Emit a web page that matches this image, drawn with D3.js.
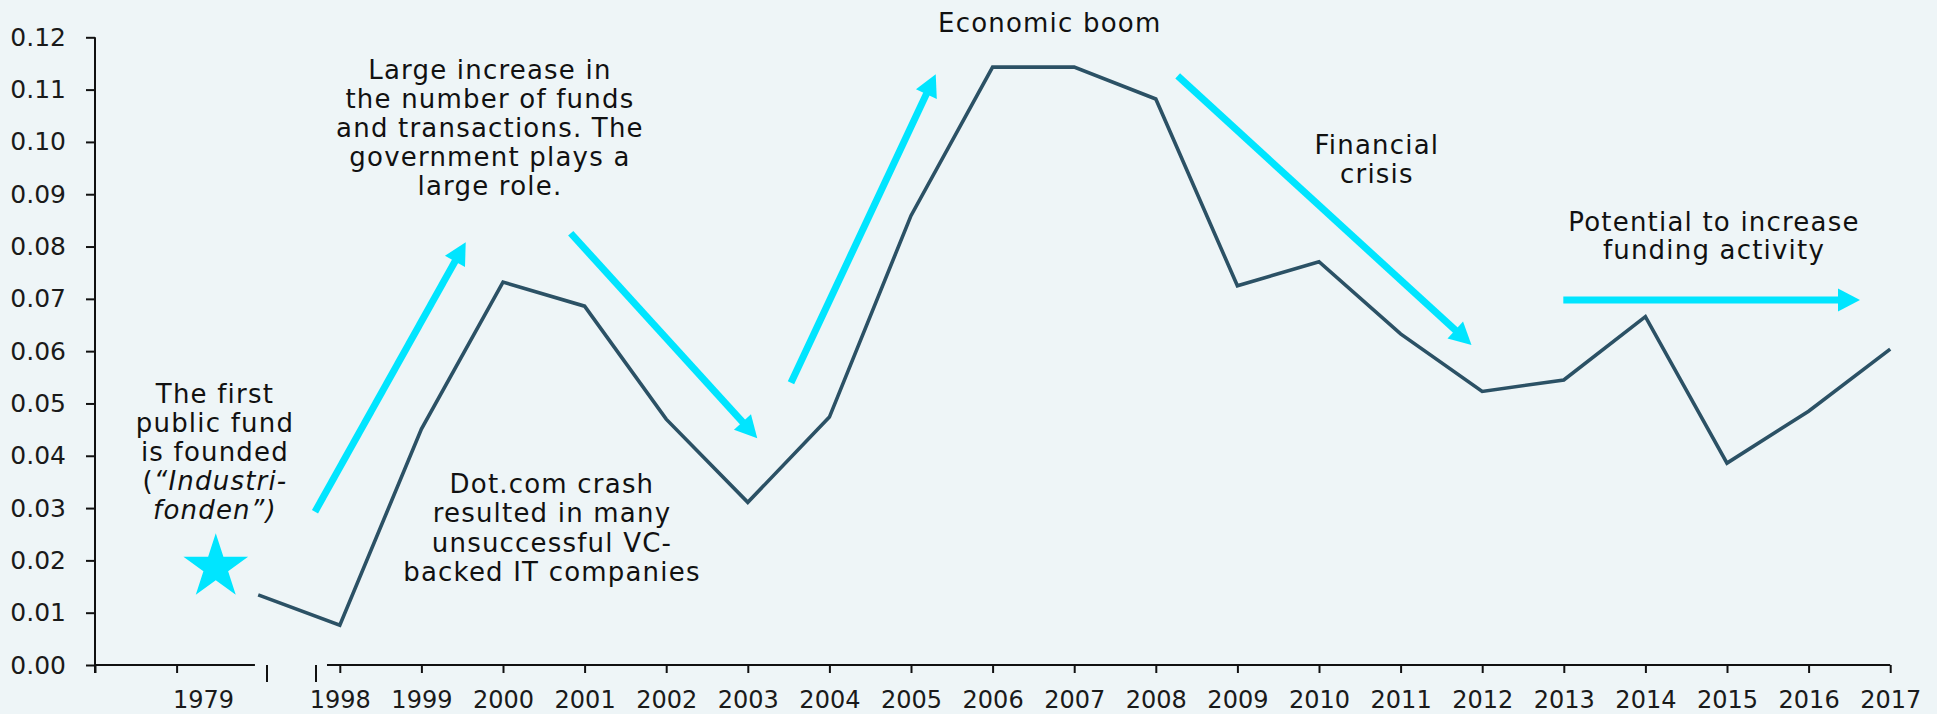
<!DOCTYPE html>
<html>
<head>
<meta charset="utf-8">
<script src="https://cdn.jsdelivr.net/npm/d3@7"></script>
<style>
  html, body { margin: 0; padding: 0; background: #EEF5F7; }
  svg { display: block; font-family: "DejaVu Sans", sans-serif; }
</style>
</head>
<body>
<svg id="chart" width="1937" height="714"></svg>
<script>
// Series: first point is the 1979 value, followed by 1998–2017
const categories = ["1979", "1998", "1999", "2000", "2001", "2002", "2003", "2004", "2005", "2006",
  "2007", "2008", "2009", "2010", "2011", "2012", "2013", "2014", "2015", "2016", "2017"];
const values = [0.0134, 0.0076, 0.0451, 0.0732, 0.0686, 0.0470, 0.0311, 0.0474, 0.0859, 0.1143,
  0.1143, 0.1082, 0.0725, 0.0771, 0.0633, 0.0523, 0.0545, 0.0666, 0.0386, 0.0485, 0.0604];
const yTicks = [0, 0.01, 0.02, 0.03, 0.04, 0.05, 0.06, 0.07, 0.08, 0.09, 0.10, 0.11, 0.12];
const yearTickLabels = categories.slice(1);

// Annotation texts
const notes = [
  { lines: ["Large increase in", "the number of funds", "and transactions. The", "government plays a", "large role."], slot: 4.84, top: 0.11205, lh: 29 },
  { lines: ["Economic boom"], slot: 11.70, top: 0.12103, lh: 29 },
  { lines: ["Financial", "crisis"], slot: 15.71, top: 0.09770, lh: 29.5 },
  { lines: ["Potential to increase", "funding activity"], slot: 19.84, top: 0.08298, lh: 28 },
  { lines: ["Dot.com crash", "resulted in many", "unsuccessful VC-", "backed IT companies"], slot: 5.60, top: 0.03289, lh: 29.3 }
];

// Trend arrows: [slotFrom, valueFrom, slotTo, valueTo]
const arrows = [
  [2.696, 0.02931, 4.543, 0.08082],
  [5.830, 0.08254, 8.116, 0.04335],
  [8.529, 0.05398, 10.303, 0.11294],
  [13.268, 0.11262, 16.869, 0.06119],
  [17.994, 0.06979, 21.630, 0.06979]
];

const svg = d3.select("#chart");
svg.append("rect").attr("width", 1937).attr("height", 714).attr("fill", "#EEF5F7");

// Category slots along the x axis (slot 0 is the y-axis position)
const x = d3.scaleLinear().domain([0, 22]).range([95, 1890.2]);
const y = d3.scaleLinear().domain([0, 0.12]).range([665, 37.3]);
const slotOf = i => i + 2;

const axisColor = "#111";
const cyan = "#00E5FF";
const lineColor = "#2B5165";

// Y axis
const yAxis = svg.append("g")
  .attr("transform", `translate(${x(0)},0)`)
  .call(d3.axisLeft(y).tickValues(yTicks).tickFormat(d3.format(".2f")).tickSize(9).tickPadding(20));
yAxis.select(".domain").remove();
yAxis.selectAll(".tick line").attr("stroke", axisColor).attr("stroke-width", 2);
yAxis.selectAll(".tick text").attr("font-size", 25).attr("fill", "#1a1a1a")
  .attr("font-family", "DejaVu Sans, sans-serif");
svg.append("line")
  .attr("x1", x(0)).attr("x2", x(0))
  .attr("y1", y(0) + 8).attr("y2", y(0.12))
  .attr("stroke", axisColor).attr("stroke-width", 2);

// X axis (broken between the 1979 slot and 1998)
const xTickSlots = [0, 1].concat(yearTickLabels.map((_, i) => slotOf(i + 1)));
const xAxis = svg.append("g")
  .attr("transform", `translate(0,${y(0)})`)
  .call(d3.axisBottom(x).tickValues(xTickSlots)
    .tickFormat(d => d >= 3 ? yearTickLabels[d - 3] : "")
    .tickSize(8).tickPadding(18));
xAxis.select(".domain").remove();
xAxis.selectAll(".tick line").attr("stroke", axisColor).attr("stroke-width", 2);
xAxis.selectAll(".tick text").attr("font-size", 24).attr("fill", "#1a1a1a")
  .attr("font-family", "DejaVu Sans, sans-serif");

[[0, 1.96], [2.843, 22]].forEach(([a, b]) => {
  svg.append("line")
    .attr("x1", x(a)).attr("x2", x(b))
    .attr("y1", y(0)).attr("y2", y(0))
    .attr("stroke", axisColor).attr("stroke-width", 2);
});
// Break marks
[2.108, 2.708].forEach(s => {
  svg.append("line")
    .attr("x1", x(s)).attr("x2", x(s))
    .attr("y1", y(0)).attr("y2", y(0) + 17)
    .attr("stroke", axisColor).attr("stroke-width", 2);
});
// 1979 label
svg.append("text")
  .attr("x", x(1.33)).attr("y", y(0) + 43)
  .attr("text-anchor", "middle").attr("font-size", 24).attr("fill", "#1a1a1a")
  .text(categories[0]);

// Arrows
arrows.forEach(([s0, v0, s1, v1]) => {
  const x0 = x(s0), y0 = y(v0), x1 = x(s1), y1 = y(v1);
  const dx = x1 - x0, dy = y1 - y0, len = Math.hypot(dx, dy);
  const ux = dx / len, uy = dy / len;
  const headLen = 22, headHalf = 11.5;
  const bx = x1 - ux * headLen, by = y1 - uy * headLen;
  svg.append("line")
    .attr("x1", x0).attr("y1", y0).attr("x2", bx + ux * 2).attr("y2", by + uy * 2)
    .attr("stroke", cyan).attr("stroke-width", 7);
  svg.append("path")
    .attr("d", `M${x1},${y1}L${bx - uy * headHalf},${by + ux * headHalf}L${bx + uy * headHalf},${by - ux * headHalf}Z`)
    .attr("fill", cyan);
});

// Star marking the first public fund
(function () {
  const cx = x(1.48), cy = y(0.0187), R = 34, r = 13;
  const pts = d3.range(10).map(k => {
    const ang = -Math.PI / 2 + k * Math.PI / 5;
    const rad = k % 2 === 0 ? R : r;
    return [cx + rad * Math.cos(ang), cy + rad * Math.sin(ang)];
  });
  svg.append("path").attr("d", "M" + pts.join("L") + "Z").attr("fill", cyan);
})();

// Data line
const line = d3.line()
  .x((d, i) => x(slotOf(i)))
  .y(d => y(d));
svg.append("path")
  .datum(values)
  .attr("d", line)
  .attr("fill", "none")
  .attr("stroke", lineColor)
  .attr("stroke-width", 3.6)
  .attr("stroke-linejoin", "miter");

// Annotation texts
const textStyle = sel => sel.attr("text-anchor", "middle").attr("font-size", 26)
  .attr("letter-spacing", 1.2).attr("fill", "#111");
notes.forEach(n => {
  const t = svg.append("text").call(textStyle);
  n.lines.forEach((ln, i) => {
    t.append("tspan").attr("x", x(n.slot)).attr("y", y(n.top) + i * n.lh).text(ln);
  });
});

// First public fund note, with the fund name in italics
(function () {
  const cx = x(1.47), top = y(0.0500), lh = 29;
  const t = svg.append("text").call(textStyle);
  t.append("tspan").attr("x", cx).attr("y", top).text("The first");
  t.append("tspan").attr("x", cx).attr("y", top + lh).text("public fund");
  t.append("tspan").attr("x", cx).attr("y", top + 2 * lh).text("is founded");
  const l4 = svg.append("text").call(textStyle).attr("x", cx).attr("y", top + 3 * lh);
  l4.append("tspan").text("(");
  l4.append("tspan").attr("font-style", "italic").text("\u201CIndustri-");
  svg.append("text").call(textStyle).attr("x", cx).attr("y", top + 4 * lh)
    .attr("font-style", "italic").text("fonden\u201D)");
})();
</script>
</body>
</html>
